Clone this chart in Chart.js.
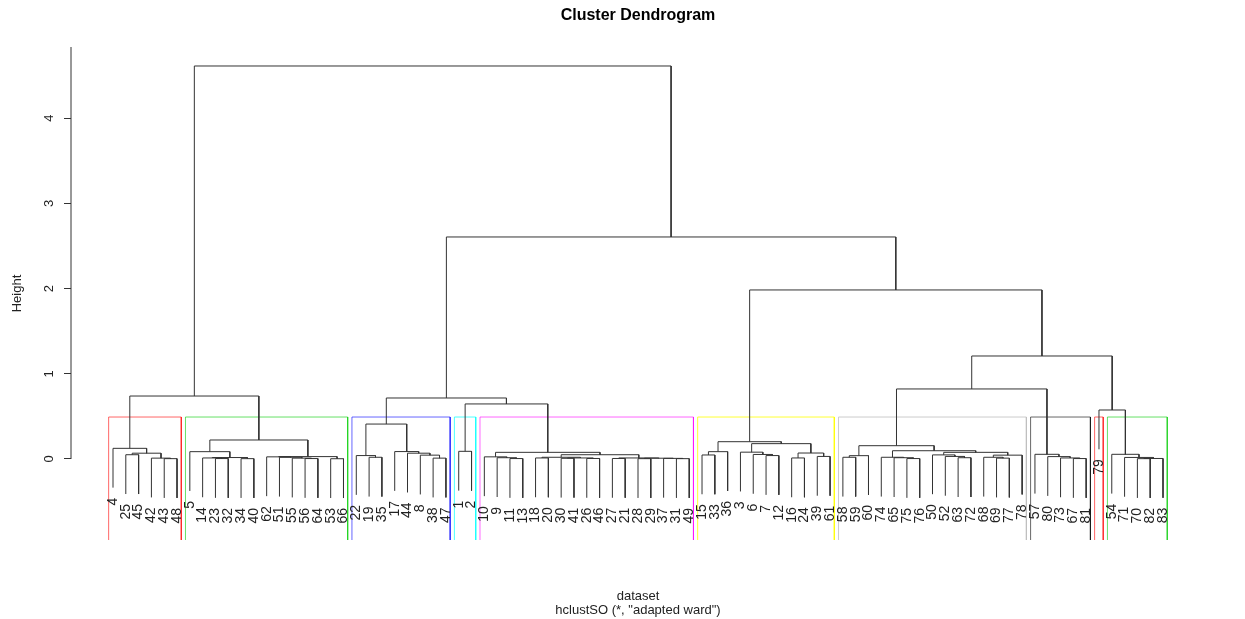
<!DOCTYPE html>
<html>
<head>
<meta charset="utf-8">
<script src="https://cdn.jsdelivr.net/npm/chart.js@4/dist/chart.umd.min.js"></script>
<style>
  html, body { margin: 0; padding: 0; background: #ffffff; }
  #wrap { width: 1245px; height: 619px; }
</style>
</head>
<body>
<div id="wrap"><canvas id="dendro" width="1245" height="619"></canvas></div>
<script>
// Merge table in hclust convention: a negative entry is an observation number,
// a positive entry refers to an earlier merge row (1-based).
const mergeLeft = [
  -25, -43, -42, 1, -4,
  -23, -14, -34, 7, -5, -56, -55, -51, -62, -53, 14, 10, 5,
  -19, -22, -38, -8, -44, -17, 20,
  -1,
  -11, -9, -10, -18, -30, -26, 31, 30, -27, -28, -31, -37, 36, 35, 34, 29, 26, 25,
  -15, 45, -7, -6, -3, -16, -39, 50, 49, 46,
  -58, 55, -75, -65, -74, -63, -52, -50, -69, -68, 64, 62, 59, 56,
  -67, -73, -80, -57, 68,
  -70, 74, -71, -54, -79, 73, 54, 44, 18
];
const mergeRight = [
  -45, -48, 2, 3, 4,
  -32, 6, -40, 8, 9, -64, 11, 12, 13, -66, 15, 16, 17,
  -35, 19, -47, 21, 22, 23, 24,
  -2,
  -13, 27, 28, -20, -41, -46, 32, 33, -21, -29, -49, 37, 38, 39, 40, 41, 42, 43,
  -33, -36, -12, 47, 48, -24, -61, 51, 52, 53,
  -59, -60, -76, 57, 58, -72, 60, 61, -77, 63, -78, 65, 66, 67,
  -81, 69, 70, 71, 72,
  -82, -83, 75, 76, 77, 78, 79, 80, 81
];
const mergeHeight = [
  0.050, 0.004, 0.010, 0.068, 0.125,
  0.005, 0.012, 0.004, 0.017, 0.086, 0.005, 0.010, 0.020, 0.025, 0.003, 0.028, 0.223, 0.739,
  0.020, 0.040, 0.010, 0.045, 0.068, 0.087, 0.410,
  0.090,
  0.005, 0.015, 0.025, 0.012, 0.008, 0.006, 0.012, 0.020, 0.006, 0.004, 0.004, 0.007, 0.009, 0.012, 0.050, 0.078, 0.646, 0.716,
  0.047, 0.086, 0.040, 0.053, 0.080, 0.012, 0.030, 0.070, 0.180, 0.203,
  0.020, 0.039, 0.005, 0.015, 0.020, 0.015, 0.030, 0.048, 0.010, 0.020, 0.045, 0.078, 0.097, 0.156,
  0.005, 0.012, 0.028, 0.055, 0.822,
  0.004, 0.006, 0.018, 0.055, 0.575, 1.209, 1.984, 2.606, 4.613
];
const yTicks = [0, 1, 2, 3, 4];
const clusterCount = 10;
const boxColours = ['rgba(255,0,0,0.6)', 'rgba(0,205,0,0.6)', 'rgba(0,0,255,0.6)', 'rgba(0,255,255,0.7)',
                    'rgba(255,0,255,0.6)', 'rgba(255,255,0,0.8)', 'rgba(190,190,190,0.8)',
                    'rgba(0,0,0,0.6)', 'rgba(255,0,0,0.6)', 'rgba(0,205,0,0.6)'];
const titleText = 'Cluster Dendrogram';
const xAxisText = 'dataset';
const subText = 'hclustSO (*, "adapted ward")';
const yAxisText = 'Height';

const FONT = '"Liberation Sans", Arial, Helvetica, sans-serif';
const INK = '#333333';

// ---- layout of the tree (leaf order, node positions) ----
const nMerge = mergeHeight.length;
const hang = 0.1 * Math.max(...mergeHeight);
const leafOrder = [];          // observation numbers, left to right
const leafPos = {};            // observation -> x position (1..n)
const nodeX = new Array(nMerge);
const nodeLo = new Array(nMerge);
const nodeHi = new Array(nMerge);

function walk(ref) {
  if (ref < 0) {
    leafOrder.push(-ref);
    leafPos[-ref] = leafOrder.length;
    return { x: leafOrder.length, lo: leafOrder.length, hi: leafOrder.length };
  }
  const i = ref - 1;
  const a = walk(mergeLeft[i]);
  const b = walk(mergeRight[i]);
  nodeX[i] = (a.x + b.x) / 2;
  nodeLo[i] = a.lo;
  nodeHi[i] = b.hi;
  return { x: nodeX[i], lo: a.lo, hi: b.hi };
}
walk(nMerge);

// bottom end of each leaf's hanging segment
const leafBottom = {};
function child(ref, h) {
  if (ref < 0) {
    leafBottom[-ref] = h - hang;
    return { x: leafPos[-ref], y: h - hang };
  }
  return { x: nodeX[ref - 1], y: mergeHeight[ref - 1] };
}

const treePoints = [];
for (let i = 0; i < nMerge; i++) {
  const h = mergeHeight[i];
  const a = child(mergeLeft[i], h);
  const b = child(mergeRight[i], h);
  treePoints.push({ x: a.x, y: a.y }, { x: a.x, y: h }, { x: b.x, y: h }, { x: b.x, y: b.y }, { x: b.x, y: null });
}

// ---- cluster boxes (cut into clusterCount groups) ----
const sortedH = [...mergeHeight].sort((p, q) => q - p);
const cutH = (sortedH[clusterCount - 2] + sortedH[clusterCount - 1]) / 2;
const groups = [];
function collect(ref) {
  if (ref < 0) { groups.push([leafPos[-ref], leafPos[-ref]]); return; }
  const i = ref - 1;
  if (mergeHeight[i] < cutH) { groups.push([nodeLo[i], nodeHi[i]]); return; }
  collect(mergeLeft[i]);
  collect(mergeRight[i]);
}
collect(nMerge);

const yMin = -0.951, yMax = 4.836;

const datasets = [{
  data: treePoints,
  showLine: true,
  borderColor: INK,
  borderWidth: 1,
  pointRadius: 0,
  tension: 0,
  spanGaps: false
}];
groups.forEach((g, k) => {
  const x0 = g[0] - 0.34, x1 = g[1] + 0.33;
  datasets.push({
    data: [{ x: x0, y: yMin }, { x: x0, y: cutH }, { x: x1, y: cutH }, { x: x1, y: yMin }],
    showLine: true,
    borderColor: boxColours[k % boxColours.length],
    borderWidth: 1,
    pointRadius: 0,
    tension: 0
  });
});

// ---- texts: leaf labels, axis line, titles ----
const textPlugin = {
  id: 'dendroText',
  afterDraw(chart) {
    const ctx = chart.ctx;
    const xs = chart.scales.x, ys = chart.scales.y;
    const area = chart.chartArea;
    ctx.save();
    ctx.fillStyle = '#222';

    // leaf labels, hanging below each leaf
    ctx.font = '14px ' + FONT;
    ctx.textAlign = 'right';
    ctx.textBaseline = 'middle';
    leafOrder.forEach((obs, idx) => {
      const px = xs.getPixelForValue(idx + 1);
      const py = ys.getPixelForValue(leafBottom[obs]) + 10;
      ctx.save();
      ctx.translate(px, py);
      ctx.rotate(-Math.PI / 2);
      ctx.fillText(String(obs), 0, 0);
      ctx.restore();
    });

    // left axis line from the first tick to the top of the plot region
    ctx.strokeStyle = INK;
    ctx.lineWidth = 1;
    ctx.beginPath();
    ctx.moveTo(area.left, ys.getPixelForValue(yTicks[0]));
    ctx.lineTo(area.left, area.top);
    ctx.stroke();

    const cx = (area.left + area.right) / 2;
    ctx.textAlign = 'center';
    ctx.fillStyle = '#000';
    ctx.font = 'bold 16px ' + FONT;
    ctx.fillText(titleText, cx, 16);
    ctx.fillStyle = '#222';
    ctx.font = '13px ' + FONT;
    ctx.fillText(xAxisText, cx, 596);
    ctx.fillText(subText, cx, 610);
    ctx.restore();
  }
};

new Chart(document.getElementById('dendro').getContext('2d'), {
  type: 'scatter',
  data: { datasets },
  options: {
    responsive: false,
    animation: false,
    devicePixelRatio: 1,
    layout: { padding: { left: 0, top: 47, right: 40, bottom: 79 } },
    plugins: {
      legend: { display: false },
      tooltip: { enabled: false },
      title: { display: false }
    },
    scales: {
      x: { type: 'linear', min: -2.28, max: 86.28, display: false },
      y: {
        type: 'linear',
        min: yMin,
        max: yMax,
        afterBuildTicks: (s) => { s.ticks = yTicks.map(v => ({ value: v })); },
        afterFit: (s) => { s.width = 71; },
        border: { display: false },
        grid: { drawOnChartArea: false, drawTicks: true, tickLength: 7, color: INK, lineWidth: 1 },
        ticks: {
          autoSkip: false,
          minRotation: 90,
          maxRotation: 90,
          crossAlign: 'center',
          padding: 11,
          color: '#222',
          font: { family: FONT, size: 13 }
        },
        title: {
          display: true,
          text: yAxisText,
          color: '#222',
          font: { family: FONT, size: 13 },
          padding: { top: 10, bottom: 0 }
        }
      }
    }
  },
  plugins: [textPlugin]
});
</script>
</body>
</html>
